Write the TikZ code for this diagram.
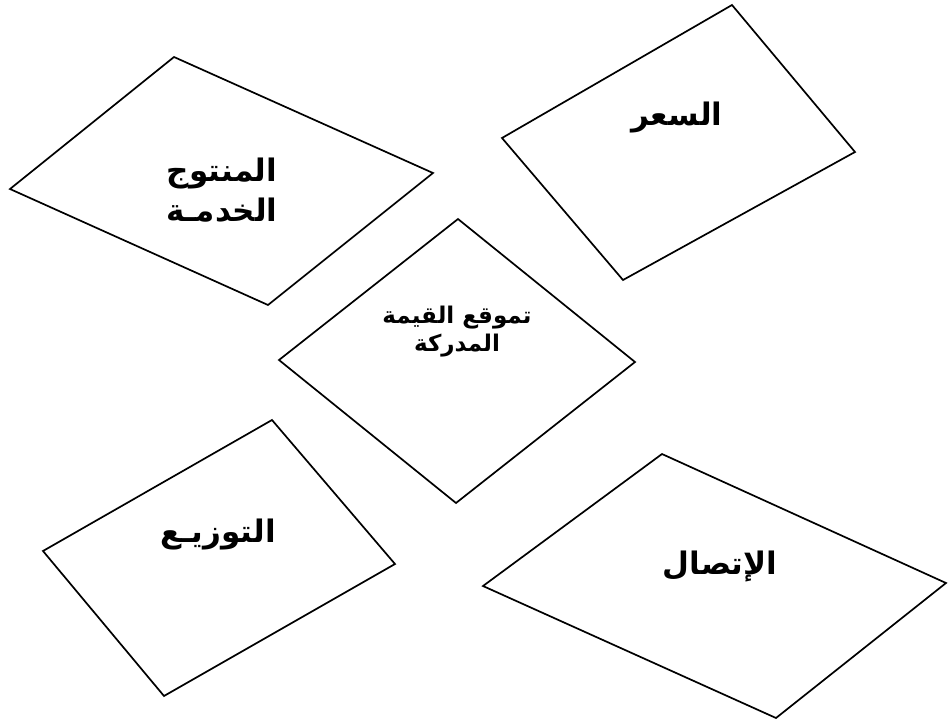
\documentclass[tikz,border=0pt]{standalone}
\usepackage{fontspec}
\newfontfamily\arabicfont[Script=Arabic]{DejaVu Sans}
\TeXXeTstate=1
\begin{document}
\begin{tikzpicture}[x=1pt,y=-1pt,
  rhomb/.style={draw=black,line width=1.7pt,line join=miter},
  biglabel/.style={font=\arabicfont\bfseries\fontsize{31}{40}\selectfont,align=center,inner sep=0pt},
  smalllabel/.style={font=\arabicfont\bfseries\fontsize{23}{28}\selectfont,align=center,inner sep=0pt}]
\useasboundingbox (0,0) rectangle (948,723);
\fill[white] (0,0) rectangle (948,723);
% vertices
\coordinate (p1t) at (174,57);  \coordinate (p1r) at (433,173);
\coordinate (p1b) at (268,305); \coordinate (p1l) at (10,189);
\coordinate (p2t) at (732,5);   \coordinate (p2r) at (855,152);
\coordinate (p2b) at (623,280); \coordinate (p2l) at (502,138);
\coordinate (p3t) at (458,219); \coordinate (p3r) at (635,362);
\coordinate (p3b) at (456,503); \coordinate (p3l) at (279,360);
\coordinate (p4t) at (272,420); \coordinate (p4r) at (395,564);
\coordinate (p4b) at (164,696); \coordinate (p4l) at (43,551);
\coordinate (p5t) at (662,454); \coordinate (p5r) at (946,583);
\coordinate (p5b) at (776,718); \coordinate (p5l) at (483,586);
\draw[rhomb] (p1t) -- (p1r) -- (p1b) -- (p1l) -- cycle;
\draw[rhomb] (p2t) -- (p2r) -- (p2b) -- (p2l) -- cycle;
\draw[rhomb] (p3t) -- (p3r) -- (p3b) -- (p3l) -- cycle;
\draw[rhomb] (p4t) -- (p4r) -- (p4b) -- (p4l) -- cycle;
\draw[rhomb] (p5t) -- (p5r) -- (p5b) -- (p5l) -- cycle;
% labels
\node[biglabel] (product) at (222,190) {\beginR المنتوج\endR\\\beginR الخدمـة\endR};
\node[biglabel] (price) at (677,118) {\beginR السعر\endR};
\node[smalllabel] (value) at (457,332) {\beginR تموقع القيمة\endR\\\beginR المدركة\endR};
\node[biglabel] (distribution) at (218,535) {\beginR التوزيـع\endR};
\node[biglabel] (communication) at (720,567) {\beginR الإتصال\endR};
\end{tikzpicture}
\end{document}
